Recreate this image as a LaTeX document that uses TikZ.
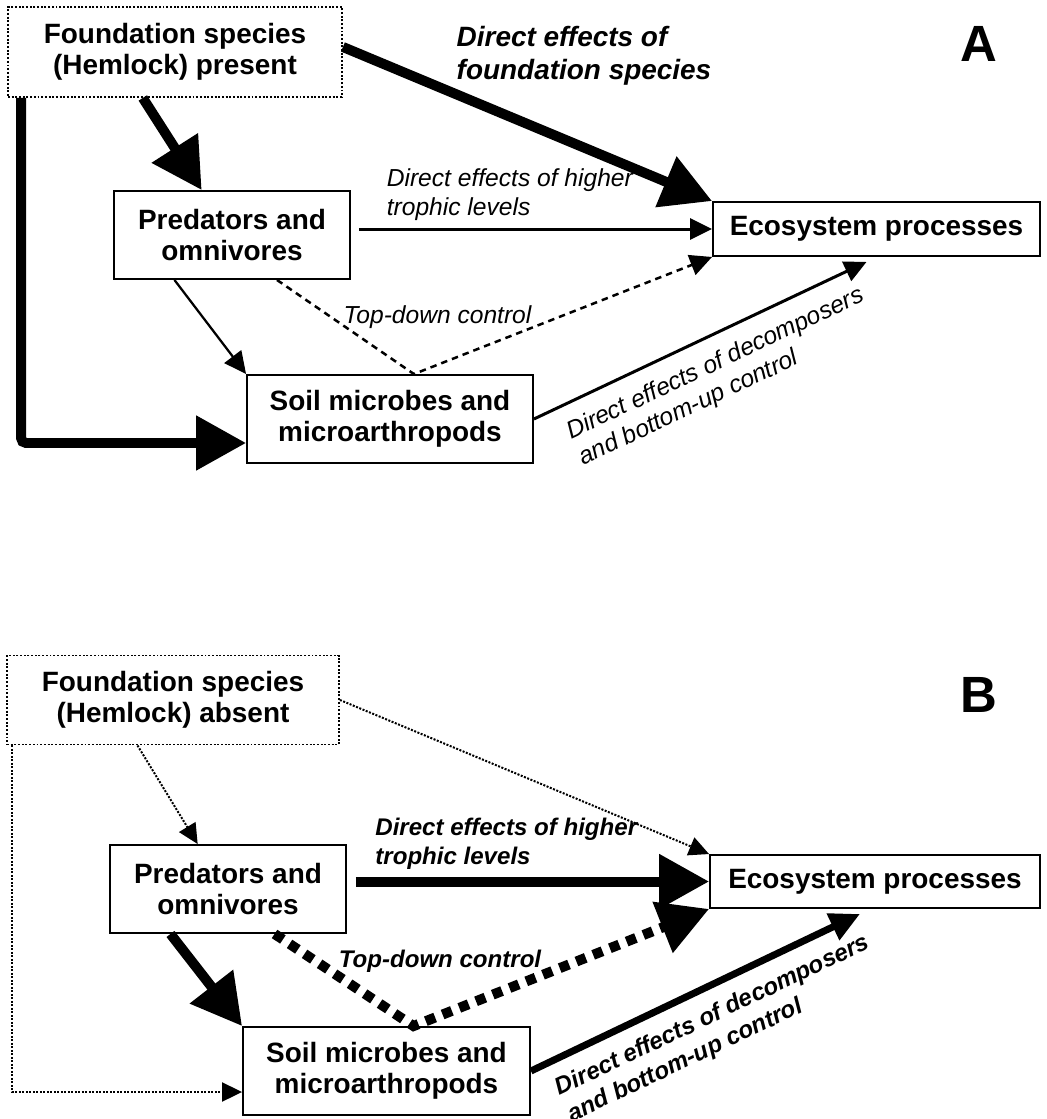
\documentclass[tikz,border=0pt]{standalone}
\usepackage{fontspec}
\setmainfont{Liberation Sans}
\usetikzlibrary{arrows.meta, positioning}

\begin{document}
\begin{tikzpicture}[
    x=0.02cm, y=-0.02cm,
    box/.style={draw, line width=1.1pt, align=center, inner sep=0pt,
        font=\bfseries\fontsize{15.9}{17.5}\selectfont},
    fbox/.style={box, densely dotted},
    lab/.style={inner sep=0pt, align=left,
        font=\itshape\fontsize{14}{16.5}\selectfont},
    blab/.style={lab, font=\bfseries\itshape\fontsize{13.7}{16.5}\selectfont},
    flab/.style={lab, font=\bfseries\itshape\fontsize{15.9}{19}\selectfont},
    panel/.style={inner sep=0pt, font=\bfseries\fontsize{29}{29}\selectfont},
    strongarr/.style={line width=0.2cm, -{Triangle[length=1cm, width=1.05cm]}},
    midarr/.style={line width=0.14cm, -{Triangle[length=0.6cm, width=0.56cm]}},
    weakarr/.style={line width=0.06cm, -{Triangle[length=0.44cm, width=0.42cm]}},
    dashedarr/.style={weakarr, line width=0.05cm, dash pattern=on 0.13cm off 0.1cm},
    dottedarr/.style={line width=0.04cm, dash pattern=on 0.04cm off 0.03cm,
        -{Triangle[length=0.4cm, width=0.38cm]}},
    bigdotarr/.style={strongarr, dash pattern=on 0.2cm off 0.16cm}
]
\useasboundingbox (0,0) rectangle (1047,1119);

% A: hemlock present
\node[fbox, minimum width=6.68cm, minimum height=1.8cm] (fA) at (175,52) {Foundation species\\(Hemlock) present};
\node[box, minimum width=4.72cm, minimum height=1.76cm] (pA) at (232,235) {Predators and\\omnivores};
\node[box, minimum width=6.54cm, minimum height=1.08cm] (eA) at (876.5,229) {Ecosystem processes};
\node[box, minimum width=5.72cm, minimum height=1.76cm] (sA) at (390,419) {Soil microbes and\\microarthropods};
\node[panel] (lblA) at (979,43.5) {A};

\draw[strongarr] ([yshift=0.1cm]fA.east) -- (eA.north west);
\node[flab] (fdA) at (584,56) {Direct effects of\\foundation species};
\draw[strongarr] (fA.-125) -- (pA.124);
\draw[strongarr, rounded corners=0.1cm] ([xshift=0.28cm]fA.south west) |- ([yshift=-0.48cm]sA.west);
\draw[weakarr, shorten <=0.16cm] (pA.east |- eA.west) -- node[lab, above=0.14cm, pos=0.44] {Direct effects of higher\\trophic levels} (eA.west);
\draw[weakarr, line width=0.045cm] (pA.-142) -- (sA.north west);
\draw[dashedarr] (pA.-45) -- (sA.62) -- (eA.south west);
\node[lab] (tdA) at (437.5,317) {Top-down control};
\draw[weakarr] (sA.east) -- node[lab, sloped, below=0.3cm, pos=0.51] {Direct effects of decomposers\\and bottom-up control} ([xshift=-0.2cm, yshift=-0.1cm]eA.south);

% B: hemlock absent
\node[fbox, minimum width=6.64cm, minimum height=1.78cm] (fB) at (173,700) {Foundation species\\(Hemlock) absent};
\node[box, minimum width=4.72cm, minimum height=1.76cm] (pB) at (228,889) {Predators and\\omnivores};
\node[box, minimum width=6.6cm, minimum height=1.06cm] (eB) at (875,881.5) {Ecosystem processes};
\node[box, minimum width=5.74cm, minimum height=1.76cm] (sB) at (386.5,1071) {Soil microbes and\\microarthropods};
\node[panel] (lblB) at (979,695) {B};

\draw[dottedarr] (fB.east) -- (eB.north west);
\draw[dottedarr] (fB.-128) -- (pB.124);
\draw[dottedarr] ([xshift=0.12cm]fB.south west) |- ([yshift=-0.42cm]sB.west);
\draw[strongarr, shorten <=0.18cm] (pB.east |- eB.west) -- node[blab, above=0.14cm, pos=0.44] {Direct effects of higher\\trophic levels} (eB.west);
\draw[strongarr] (pB.-142) -- (sB.north west);
\draw[bigdotarr] (pB.-44) -- (sB.59) -- (eB.south west);
\node[blab] (tdB) at (440,961) {Top-down control};
\draw[midarr] (sB.east) -- node[blab, sloped, below=0.28cm, pos=0.515] {Direct effects of decomposers\\and bottom-up control} ([xshift=-0.3cm, yshift=-0.1cm]eB.south);

\end{tikzpicture}
\end{document}
